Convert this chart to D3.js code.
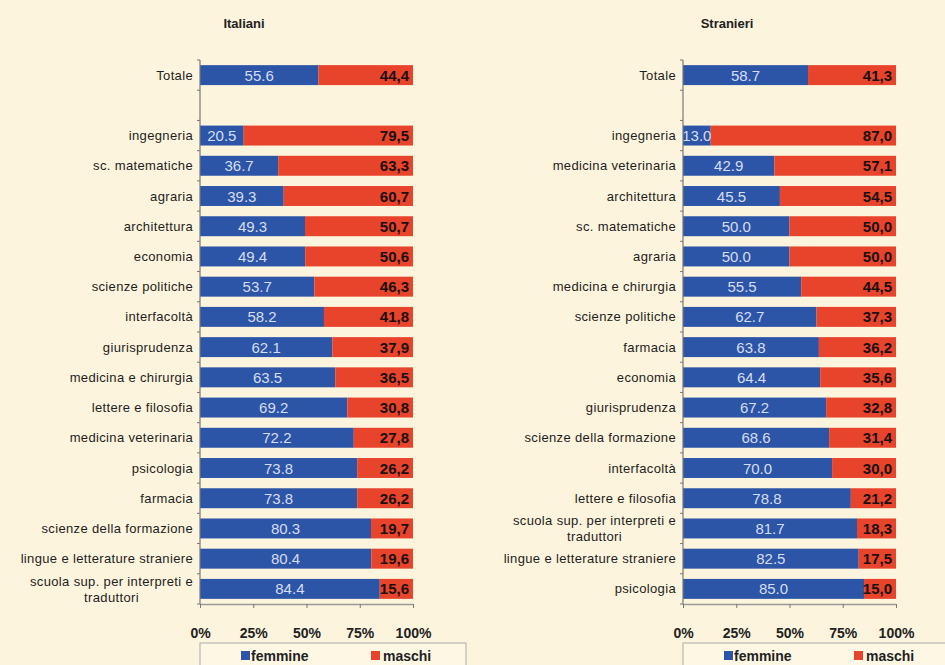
<!DOCTYPE html>
<html><head><meta charset="utf-8">
<script src="https://cdn.jsdelivr.net/npm/d3@7"></script>
<style>
html,body{margin:0;padding:0;background:#fcf4dc;}
svg{display:block;font-family:"Liberation Sans",Arial,sans-serif;}
</style></head>
<body>
<svg id="c" width="945" height="665"></svg>
<script>
// ---- Data ----
const itaCategories = ["Totale","ingegneria","sc. matematiche","agraria","architettura","economia","scienze politiche","interfacoltà","giurisprudenza","medicina e chirurgia","lettere e filosofia","medicina veterinaria","psicologia","farmacia","scienze della formazione","lingue e letterature straniere","scuola sup. per interpreti e traduttori"];
const itaFemmine = [55.6,20.5,36.7,39.3,49.3,49.4,53.7,58.2,62.1,63.5,69.2,72.2,73.8,73.8,80.3,80.4,84.4];
const itaMaschi  = [44.4,79.5,63.3,60.7,50.7,50.6,46.3,41.8,37.9,36.5,30.8,27.8,26.2,26.2,19.7,19.6,15.6];

const strCategories = ["Totale","ingegneria","medicina veterinaria","architettura","sc. matematiche","agraria","medicina e chirurgia","scienze politiche","farmacia","economia","giurisprudenza","scienze della formazione","interfacoltà","lettere e filosofia","scuola sup. per interpreti e traduttori","lingue e letterature straniere","psicologia"];
const strFemmine = [58.7,13.0,42.9,45.5,50.0,50.0,55.5,62.7,63.8,64.4,67.2,68.6,70.0,78.8,81.7,82.5,85.0];
const strMaschi  = [41.3,87.0,57.1,54.5,50.0,50.0,44.5,37.3,36.2,35.6,32.8,31.4,30.0,21.2,18.3,17.5,15.0];

const xTicks = [0,25,50,75,100];
const seriesNames = ["femmine","maschi"];
const panelTitles = ["Italiani","Stranieri"];

// ---- Style ----
const colBlue = "#2c55a7", colRed = "#e8432b";
const svg = d3.select("#c");

function wrapLabel(s){
  if (s === "scuola sup. per interpreti e traduttori") return ["scuola sup. per interpreti e","traduttori"];
  return [s];
}

function panel(x0, title, titleX, cats, fem, mas){
  const domain = [cats[0], "__blank__", ...cats.slice(1)];
  const y = d3.scaleBand().domain(domain).range([60,604]).paddingInner(0.34).paddingOuter(0.17);
  const x = d3.scaleLinear().domain([0,100]).range([x0, x0+213]);
  const g = svg.append("g");

  g.append("text").attr("x", titleX).attr("y", 28).attr("text-anchor","middle")
    .attr("font-size",13).attr("font-weight","bold").attr("fill","#222").text(title);

  const rows = cats.map((c,i)=>({c, f:fem[i], m:mas[i]}));
  g.selectAll("rect.f").data(rows).join("rect")
    .attr("x", x(0)).attr("y", d=>y(d.c)).attr("width", d=>x(d.f)-x(0)).attr("height", y.bandwidth())
    .attr("fill", colBlue);
  g.selectAll("rect.m").data(rows).join("rect")
    .attr("x", d=>x(d.f)).attr("y", d=>y(d.c)).attr("width", d=>x(100)-x(d.f)).attr("height", y.bandwidth())
    .attr("fill", colRed);
  g.selectAll("text.fv").data(rows).join("text")
    .attr("x", d=>(x(0)+x(d.f))/2).attr("y", d=>y(d.c)+y.bandwidth()/2+5.5)
    .attr("text-anchor","middle").attr("font-size",15).attr("fill","#d6ddf0")
    .text(d=>d.f.toFixed(1));
  g.selectAll("text.mv").data(rows).join("text")
    .attr("x", x(100)-4).attr("y", d=>y(d.c)+y.bandwidth()/2+5.5)
    .attr("text-anchor","end").attr("font-size",15).attr("font-weight","bold").attr("fill","#1a1010")
    .text(d=>d.m.toFixed(1).replace(".",","));

  const [r0,r1] = y.range();
  g.append("line").attr("x1",x0).attr("x2",x0).attr("y1",r0).attr("y2",r1).attr("stroke","#777").attr("stroke-width",1.2);
  const step = y.step();
  d3.range(domain.length+1).forEach(i=>{
    const yy = r0 + i*step;
    g.append("line").attr("x1",x0-3).attr("x2",x0).attr("y1",yy).attr("y2",yy).attr("stroke","#777");
  });
  rows.forEach(d=>{
    const lines = wrapLabel(d.c);
    const cy = y(d.c)+y.bandwidth()/2;
    if (lines.length===1){
      g.append("text").attr("x", x0-7).attr("y", cy+4.5).attr("text-anchor","end")
        .attr("font-size",13).attr("letter-spacing",0.35).attr("fill","#1e1e1e").text(lines[0]);
    } else {
      const t = g.append("text").attr("font-size",13).attr("letter-spacing",0.35).attr("fill","#1e1e1e").attr("text-anchor","end");
      t.append("tspan").attr("x", x0-7).attr("y", cy-3).text(lines[0]);
      const w = t.node().getComputedTextLength();
      g.append("text").attr("font-size",13).attr("letter-spacing",0.35).attr("fill","#1e1e1e").attr("text-anchor","middle")
        .attr("x", x0-7-w/2).attr("y", cy+13).text(lines[1]);
    }
  });

  const xa = g.append("g").attr("transform",`translate(0,${r1})`)
    .call(d3.axisBottom(x).tickValues(xTicks).tickSize(4).tickFormat(v=>v+"%"));
  xa.select(".domain").attr("stroke","#999").attr("stroke-width",1.5).attr("d",`M${x0},0.5H${x0+213}`);
  xa.selectAll(".tick line").attr("stroke","#777");
  xa.selectAll(".tick text").attr("y",24).attr("font-size",14).attr("font-weight","bold")
    .attr("fill","#222").attr("font-family","'Liberation Sans',Arial,sans-serif");

  const lg = g.append("g");
  lg.append("rect").attr("x", x0).attr("y", 643).attr("width", 266).attr("height", 40)
    .attr("fill","#fdf7e4").attr("stroke","#aaa");
  const items = [{n:seriesNames[0], c:colBlue, sx:x0+41, tx:x0+51},{n:seriesNames[1], c:colRed, sx:x0+171, tx:x0+183}];
  items.forEach(it=>{
    lg.append("rect").attr("x",it.sx).attr("y",651).attr("width",9).attr("height",9).attr("fill",it.c);
    lg.append("text").attr("x",it.tx).attr("y",661).attr("font-size",14).attr("font-weight","bold")
      .attr("fill","#222").text(it.n);
  });
}

panel(200, panelTitles[0], 244, itaCategories, itaFemmine, itaMaschi);
panel(683, panelTitles[1], 727, strCategories, strFemmine, strMaschi);
</script>
</body></html>
